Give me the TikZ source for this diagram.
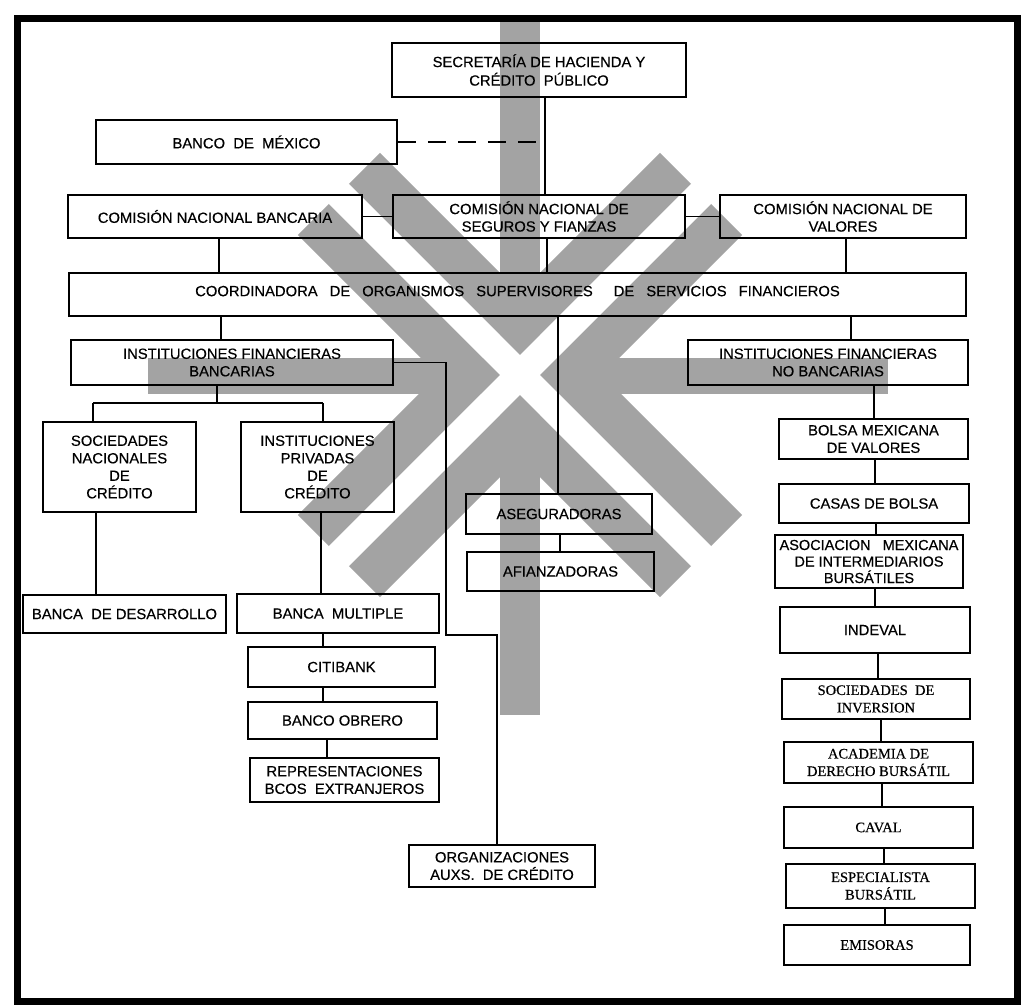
\documentclass[tikz,border=0pt]{standalone}
\usepackage{fontspec}
\setmainfont{Liberation Sans}[FakeBold=0.4]
\newfontfamily\serifb{Liberation Serif}[FakeBold=0.4]
\begin{document}
\begin{tikzpicture}[x=1pt,y=-1pt,
  box/.style={draw, line width=1.8pt, inner sep=0pt, align=center,
    font=\fontsize{14.8}{17.5}\selectfont},
  sbox/.style={box, font=\serifb\fontsize{14.5}{17.5}\selectfont},
  conn/.style={line width=1.4pt},
  dashconn/.style={line width=1.4pt, dash pattern=on 18pt off 12pt},
  wm/.style={fill=black!36, draw=none},
  wgap/.style={fill=white, draw=none}]
\useasboundingbox (0,0) rectangle (1027,1005);
\fill[white] (0,0) rectangle (1027,1005);
% ---------- watermark ----------
\fill[wm] (500,18) rectangle (540,715);
\fill[wm] (148,358) rectangle (888,394);
\begin{scope}[shift={(520,375)}, x={(0.70711pt,-0.70711pt)}, y={(0.70711pt,0.70711pt)}]
  \fill[wm] (-14,14) -- (-256,14) -- (-256,58) -- (-58,58) -- (-58,256) -- (-14,256) -- cycle;
  \fill[wm] (14,14) -- (256,14) -- (256,58) -- (58,58) -- (58,256) -- (14,256) -- cycle;
  \fill[wm] (14,-14) -- (256,-14) -- (256,-58) -- (58,-58) -- (58,-256) -- (14,-256) -- cycle;
  \fill[wm] (-14,-14) -- (-256,-14) -- (-256,-58) -- (-58,-58) -- (-58,-256) -- (-14,-256) -- cycle;
  \fill[wgap] (-260,-14) -- (260,-14) -- (260,14) -- (-260,14) -- cycle;
  \fill[wgap] (-14,-260) -- (14,-260) -- (14,260) -- (-14,260) -- cycle;
\end{scope}
% ---------- frame ----------
\draw[line width=7pt] (17.5,18.5) rectangle (1017.5,1001.5);
% ---------- boxes ----------
\node[box, minimum width=294pt, minimum height=54pt, font=\fontsize{14.8}{18.5}\selectfont] (sec) at (539,70) {SECRETARÍA DE HACIENDA Y\\CRÉDITO\ \ PÚBLICO};
\node[box, minimum width=301pt, minimum height=44pt] (bm) at (246.5,142) {BANCO\ \ DE\ \ MÉXICO};
\node[box, minimum width=294pt, minimum height=43pt] (cnb) at (215,216.5) {COMISIÓN NACIONAL BANCARIA};
\node[box, minimum width=292pt, minimum height=43pt] (cnsf) at (539,216.5) {COMISIÓN NACIONAL DE\\SEGUROS Y FIANZAS};
\node[box, minimum width=246pt, minimum height=43pt] (cnv) at (843,216.5) {COMISIÓN NACIONAL DE\\VALORES};
\node[box, minimum width=897pt, minimum height=43pt] (coord) at (517.5,294.5) {\raisebox{7pt}{COORDINADORA\hspace{12pt}DE\hspace{12pt}ORGANISMOS\hspace{12pt}SUPERVISORES\hspace{21pt}DE\hspace{12pt}SERVICIOS\hspace{12pt}FINANCIEROS}};
\node[box, minimum width=322pt, minimum height=45pt] (ifb) at (232,362.5) {INSTITUCIONES FINANCIERAS\\BANCARIAS};
\node[box, minimum width=280pt, minimum height=45pt] (ifnb) at (828,362.5) {INSTITUCIONES FINANCIERAS\\NO BANCARIAS};
\node[box, minimum width=153pt, minimum height=90pt] (snc) at (119.5,467) {SOCIEDADES\\NACIONALES\\DE\\CRÉDITO};
\node[box, minimum width=153pt, minimum height=90pt] (ipc) at (317.5,467) {INSTITUCIONES\\PRIVADAS\\DE\\CRÉDITO};
\node[box, minimum width=203pt, minimum height=38pt] (bdes) at (124.5,614) {BANCA\ \ DE DESARROLLO};
\node[box, minimum width=202pt, minimum height=39pt] (bmul) at (338,613.5) {BANCA\ \ MULTIPLE};
\node[box, minimum width=187pt, minimum height=40pt] (citi) at (341.5,667) {CITIBANK};
\node[box, minimum width=189pt, minimum height=37pt] (bobr) at (342.5,720.5) {BANCO OBRERO};
\node[box, minimum width=189pt, minimum height=44pt] (rep) at (344.5,780) {REPRESENTACIONES\\BCOS\ \ EXTRANJEROS};
\node[box, minimum width=186pt, minimum height=42pt] (org) at (502,866) {ORGANIZACIONES\\AUXS.\ \ DE CRÉDITO};
\node[box, minimum width=186pt, minimum height=40pt] (aseg) at (559,514) {ASEGURADORAS};
\node[box, minimum width=187pt, minimum height=39pt] (afian) at (560.5,571.5) {AFIANZADORAS};
\node[box, minimum width=189pt, minimum height=40pt] (bmv) at (873.5,439) {BOLSA MEXICANA\\DE VALORES};
\node[box, minimum width=190pt, minimum height=39pt] (casas) at (874,503.5) {CASAS DE BOLSA};
\node[box, minimum width=188pt, minimum height=53pt, font=\fontsize{14.5}{16.5}\selectfont] (amib) at (869,561.5) {ASOCIACION\ \ \ MEXICANA\\DE INTERMEDIARIOS\\BURSÁTILES};
\node[box, minimum width=190pt, minimum height=46pt] (indeval) at (875,630) {INDEVAL};
\node[sbox, minimum width=188pt, minimum height=40pt] (si) at (876,699) {SOCIEDADES\ \ DE\\INVERSION};
\node[sbox, minimum width=189pt, minimum height=41pt] (acad) at (878.5,762.5) {ACADEMIA DE\\DERECHO BURSÁTIL};
\node[sbox, minimum width=189pt, minimum height=41pt] (caval) at (878.5,827.5) {CAVAL};
\node[sbox, minimum width=189pt, minimum height=44pt] (esp) at (880.5,886) {ESPECIALISTA\\BURSÁTIL};
\node[sbox, minimum width=186pt, minimum height=40pt] (emis) at (877,945) {EMISORAS};
% ---------- connectors ----------
\newcommand\vlink[3]{\coordinate (tmpx) at (#3,0); \draw[conn] (#1.south -| tmpx) -- (#2.north -| tmpx);}
\coordinate (k1) at (545,142);
\draw[dashconn] (bm.east) -- (k1);
\vlink{sec}{cnsf}{545}
\draw[conn] (cnb.east) -- (cnsf.west);
\draw[conn] (cnsf.east) -- (cnv.west);
\vlink{cnb}{coord}{219}
\vlink{cnsf}{coord}{547}
\vlink{cnv}{coord}{846}
\vlink{coord}{ifb}{221}
\vlink{coord}{aseg}{558}
\vlink{coord}{ifnb}{851}
% bancarias branch
\coordinate (b0) at (217,403);
\coordinate (b1) at (93,403);
\coordinate (b2) at (323,403);
\draw[conn] (ifb.south -| b0) -- (b0);
\draw[conn] (b1) -- (b2);
\draw[conn] (b1) -- (snc.north -| b1);
\draw[conn] (b2) -- (ipc.north -| b2);
\vlink{snc}{bdes}{96}
\vlink{ipc}{bmul}{321}
\vlink{bmul}{citi}{323}
\vlink{citi}{bobr}{323}
\vlink{bobr}{rep}{327}
% organizaciones
\coordinate (c1) at (446,635);
\coordinate (c2) at (497,635);
\draw[conn] (ifb.east) -| (c1) -- (c2) -- (org.north -| c2);
\vlink{aseg}{afian}{560}
% no bancarias column
\vlink{ifnb}{bmv}{874}
\vlink{bmv}{casas}{875}
\vlink{casas}{amib}{876}
\vlink{amib}{indeval}{875}
\vlink{indeval}{si}{878}
\vlink{si}{acad}{881}
\vlink{acad}{caval}{882}
\vlink{caval}{esp}{884}
\vlink{esp}{emis}{885}
\end{tikzpicture}
\end{document}
